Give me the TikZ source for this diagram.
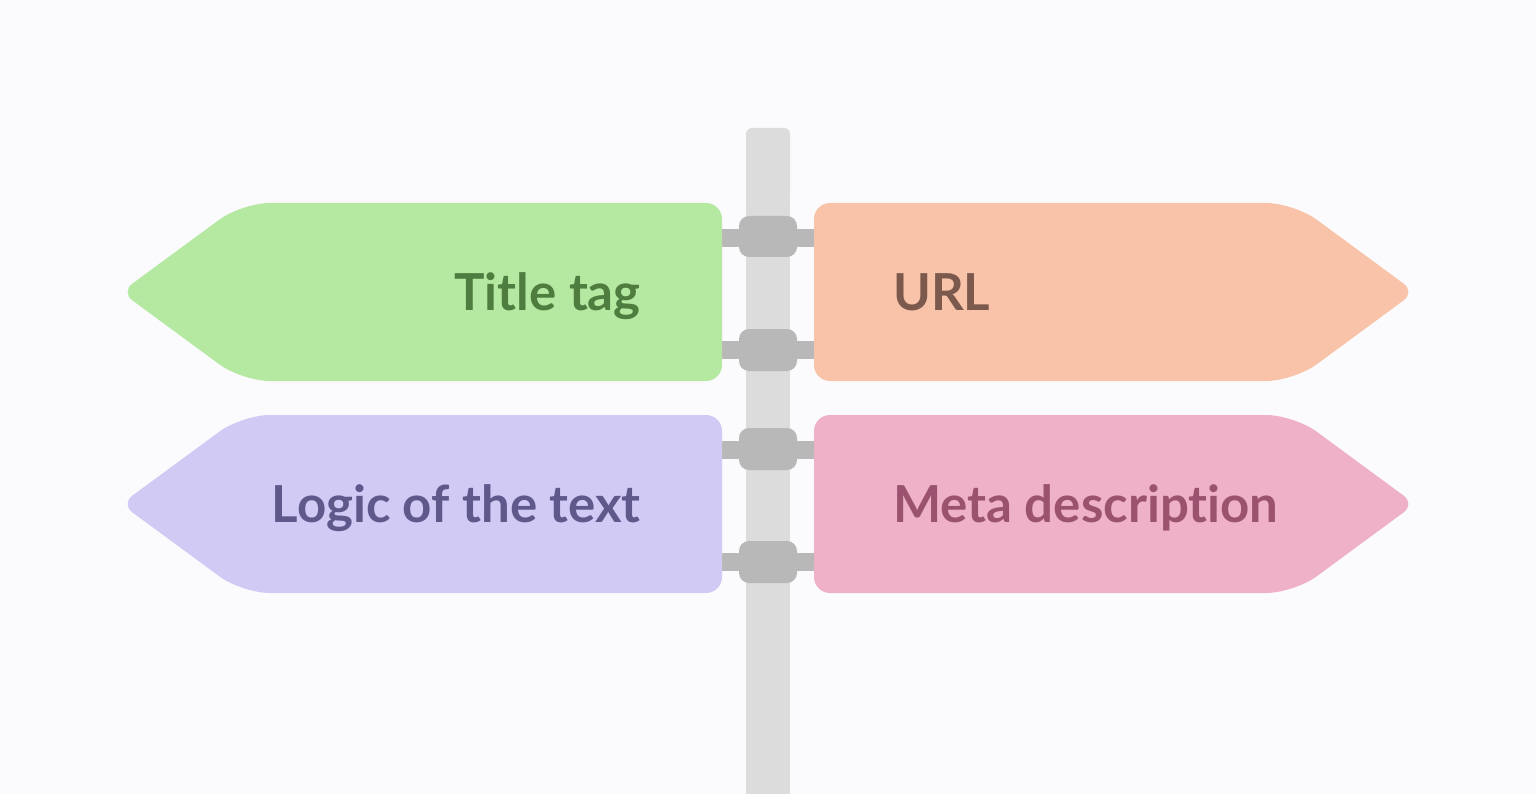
\documentclass[tikz,border=0pt]{standalone}
\usepackage{fontspec}
\setmainfont{Lato}[Ligatures={NoCommon}]
\usetikzlibrary{positioning}
\usepackage{xcolor}

\definecolor{PageBg}{HTML}{FBFBFD}
\definecolor{PoleGray}{HTML}{DCDCDC}
\definecolor{ClampGray}{HTML}{B8B8B8}
\definecolor{GreenSign}{HTML}{B5E9A1}
\definecolor{GreenText}{HTML}{4F7D3F}
\definecolor{OrangeSign}{HTML}{F9C3A9}
\definecolor{OrangeText}{HTML}{7B5A4D}
\definecolor{LilacSign}{HTML}{D0CAF5}
\definecolor{LilacText}{HTML}{5E588B}
\definecolor{PinkSign}{HTML}{EFB1C8}
\definecolor{PinkText}{HTML}{9A526E}

\begin{document}
\begin{tikzpicture}[x=1pt, y=-1pt,
    every node/.style={font=\fontsize{51}{60}\selectfont\bfseries, inner sep=0pt},
    pole/.style={fill=PoleGray},
    bar/.style={fill=ClampGray},
    clamp/.style={fill=ClampGray, rounded corners=10pt}]
        % Background
        \fill[PageBg] (0,0) rectangle (1536,794);
        \useasboundingbox (0,0) rectangle (1536,794);

        % Pole
        \fill[pole] (746,160) rectangle (790,794);
        \fill[pole, rounded corners=6pt] (746,128) rectangle (790,200);

        % Bars
        \fill[bar] (715,229) rectangle (820,247);
        \fill[bar] (715,341) rectangle (820,359);
        \fill[bar] (715,441) rectangle (820,459);
        \fill[bar] (715,553) rectangle (820,571);

        % Signs
        \fill[GreenSign] (500,203) [rounded corners=16pt] -- (722,203) -- (722,381)
            [rounded corners=28pt] -- (242,381) [rounded corners=14pt] -- (121,292)
            [rounded corners=28pt] -- (242,203) -- cycle;
        \fill[OrangeSign] (1000,203) [rounded corners=28pt] -- (1294,203)
            [rounded corners=14pt] -- (1415,292) [rounded corners=28pt] -- (1294,381)
            [rounded corners=16pt] -- (814,381) -- (814,203) -- cycle;
        \fill[LilacSign] (500,415) [rounded corners=16pt] -- (722,415) -- (722,593)
            [rounded corners=28pt] -- (242,593) [rounded corners=14pt] -- (121,504)
            [rounded corners=28pt] -- (242,415) -- cycle;
        \fill[PinkSign] (1000,415) [rounded corners=28pt] -- (1294,415)
            [rounded corners=14pt] -- (1415,504) [rounded corners=28pt] -- (1294,593)
            [rounded corners=16pt] -- (814,593) -- (814,415) -- cycle;

        % Clamps
        \fill[clamp] (739,216) rectangle (797,257);
        \fill[clamp] (739,329) rectangle (797,371);
        \fill[clamp] (739,428) rectangle (797,470);
        \fill[clamp] (739,541) rectangle (797,583);

        % Labels
        \node (TitleTag) [anchor=base east, text=GreenText] at (641,310) {Title tag};
        \node (Url) [anchor=base west, text=OrangeText] at (893,310) {URL};
        \node (Logic) [anchor=base east, text=LilacText] at (641,522) {Logic of the text};
        \node (MetaDesc) [anchor=base west, text=PinkText] at (893,522) {Meta description};
\end{tikzpicture}
\end{document}
